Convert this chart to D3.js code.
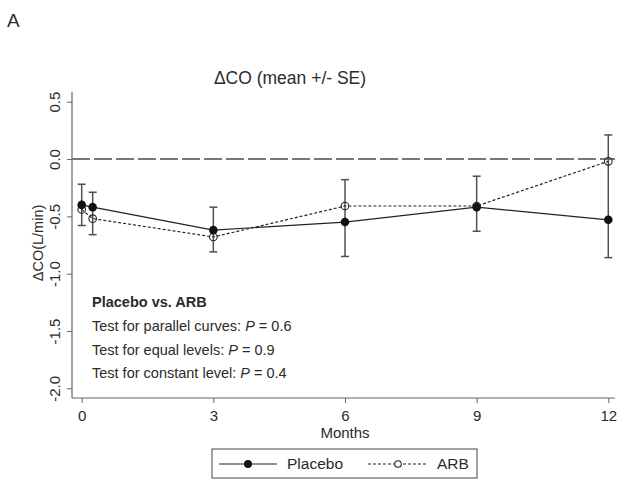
<!DOCTYPE html>
<html>
<head>
<meta charset="utf-8">
<script src="https://cdn.jsdelivr.net/npm/d3@7"></script>
<style>
  body { margin: 0; background: #fff; }
  svg text { font-family: "Liberation Sans", Arial, sans-serif; fill: #2b2b2b; }
</style>
</head>
<body>
<script>
// data
var months      = [0, 0.25, 3, 6, 9, 12];
var placeboMean = [-0.40, -0.42, -0.62, -0.55, -0.42, -0.53];
var placeboLo   = [-0.58, -0.55, -0.81, -0.85, -0.63, -0.86];
var placeboHi   = [-0.22, -0.29, -0.42, -0.25, -0.21, -0.21];
var arbMean     = [-0.44, -0.52, -0.68, -0.41, -0.41, -0.02];
var arbLo       = [-0.57, -0.66, -0.81, -0.64, -0.62, -0.25];
var arbHi       = [-0.31, -0.38, -0.55, -0.18, -0.15, 0.21];
var xTicks = [0, 3, 6, 9, 12];
var yTicks = [0.5, 0, -0.5, -1, -1.5, -2];
var notes = ["Test for parallel curves: ", "Test for equal levels: ", "Test for constant level: "];
var pValues = ["0.6", "0.9", "0.4"];

var width = 619, height = 479;
var svg = d3.select("body").append("svg")
  .attr("width", width)
  .attr("height", height);

var x = d3.scaleLinear().domain([0, 12]).range([81.7, 608.3]);
var y = d3.scaleLinear().domain([-2, 0.5]).range([388.3, 101.7]);
var axL = 72, axB = 398, axR = 615, axT = 92;

// panel letter + title
svg.append("text").attr("x", 7).attr("y", 27).style("font-size", "19px").text("A");
svg.append("text").attr("x", 290).attr("y", 84).attr("text-anchor", "middle")
  .style("font-size", "17.5px").text("\u0394CO (mean +/- SE)");

// axes
var yAxis = svg.append("g").attr("transform", "translate(" + axL + ",0)")
  .call(d3.axisLeft(y).tickValues(yTicks).tickSize(5).tickFormat(function(d){ return d.toFixed(1).replace("-0.0","0.0"); }));
yAxis.select(".domain").remove();
yAxis.selectAll(".tick line").attr("stroke", "#666");
yAxis.selectAll(".tick text")
  .attr("transform", "rotate(-90)")
  .attr("x", 0).attr("y", -12).attr("dy", 0)
  .attr("text-anchor", "middle")
  .style("font-size", "15px");

var xAxis = svg.append("g").attr("transform", "translate(0," + axB + ")")
  .call(d3.axisBottom(x).tickValues(xTicks).tickSize(5));
xAxis.select(".domain").remove();
xAxis.selectAll(".tick line").attr("stroke", "#666");
xAxis.selectAll(".tick text").attr("y", 23).attr("dy", 0).style("font-size", "15px");

svg.append("line").attr("x1", axL).attr("x2", axL).attr("y1", axT).attr("y2", axB)
  .attr("stroke", "#666").attr("stroke-width", 1.2);
svg.append("line").attr("x1", axL).attr("x2", axR).attr("y1", axB).attr("y2", axB)
  .attr("stroke", "#666").attr("stroke-width", 1.2);

svg.append("text").attr("x", 345).attr("y", 438).attr("text-anchor", "middle")
  .style("font-size", "15px").text("Months");
svg.append("text").attr("transform", "translate(43,243) rotate(-90)").attr("text-anchor", "middle")
  .style("font-size", "14.5px").text("\u0394CO(L/min)");

// zero reference line
svg.append("line").attr("x1", axL).attr("x2", axR).attr("y1", y(0)).attr("y2", y(0))
  .attr("stroke", "#777").attr("stroke-width", 2).attr("stroke-dasharray", "18,4");

// build rows
function rows(mean, lo, hi) {
  return months.map(function(m, i){ return {m: m, v: mean[i], lo: lo[i], hi: hi[i]}; });
}
var placebo = rows(placeboMean, placeboLo, placeboHi);
var arb = rows(arbMean, arbLo, arbHi);

// the two groups' bars overlap at each visit; draw the combined span with outer caps
var bars = months.map(function(m, i){
  return {m: m, lo: Math.min(placeboLo[i], arbLo[i]), hi: Math.max(placeboHi[i], arbHi[i])};
});

var line = d3.line().x(function(d){ return x(d.m); }).y(function(d){ return y(d.v); });

var eb = svg.append("g").attr("stroke", "#505050").attr("stroke-width", 1.5);
eb.selectAll(".eb").data(bars).enter().append("line")
  .attr("x1", function(d){ return x(d.m); }).attr("x2", function(d){ return x(d.m); })
  .attr("y1", function(d){ return y(d.lo); }).attr("y2", function(d){ return y(d.hi); });
["lo", "hi"].forEach(function(k){
  eb.selectAll(".cap" + k).data(bars).enter().append("line")
    .attr("x1", function(d){ return x(d.m) - 4; }).attr("x2", function(d){ return x(d.m) + 4; })
    .attr("y1", function(d){ return y(d[k]); }).attr("y2", function(d){ return y(d[k]); });
});

svg.append("path").datum(arb).attr("d", line).attr("fill", "none")
  .attr("stroke", "#222").attr("stroke-width", 1.2).attr("stroke-dasharray", "3,2");
svg.append("path").datum(placebo).attr("d", line).attr("fill", "none")
  .attr("stroke", "#222").attr("stroke-width", 1.2);

svg.selectAll(".arbpt").data(arb).enter().append("circle")
  .attr("cx", function(d){ return x(d.m); }).attr("cy", function(d){ return y(d.v); })
  .attr("r", 3.8).attr("fill", "none").attr("stroke", "#222").attr("stroke-width", 1.1);
svg.selectAll(".plpt").data(placebo).enter().append("circle")
  .attr("cx", function(d){ return x(d.m); }).attr("cy", function(d){ return y(d.v); })
  .attr("r", 4.3).attr("fill", "#111");

// annotation
svg.append("text").attr("x", 92).attr("y", 307).style("font-size", "14.5px")
  .style("font-weight", "bold").text("Placebo vs. ARB");
notes.forEach(function(t, i){
  var tx = svg.append("text").attr("x", 92).attr("y", 331 + i * 23.5).style("font-size", "14.5px");
  tx.append("tspan").text(t);
  tx.append("tspan").style("font-style", "italic").text("P");
  tx.append("tspan").text(" = " + pValues[i]);
});

// legend
var lg = svg.append("g");
lg.append("rect").attr("x", 212).attr("y", 449).attr("width", 265).attr("height", 29)
  .attr("fill", "#fff").attr("stroke", "#444").attr("stroke-width", 1);
lg.append("line").attr("x1", 219).attr("x2", 277).attr("y1", 464).attr("y2", 464)
  .attr("stroke", "#222").attr("stroke-width", 1.2);
lg.append("circle").attr("cx", 248).attr("cy", 464).attr("r", 4).attr("fill", "#111");
lg.append("text").attr("x", 287).attr("y", 469).style("font-size", "15.5px").text("Placebo");
lg.append("line").attr("x1", 368).attr("x2", 427).attr("y1", 464).attr("y2", 464)
  .attr("stroke", "#222").attr("stroke-width", 1.2).attr("stroke-dasharray", "3,2");
lg.append("circle").attr("cx", 398).attr("cy", 464).attr("r", 3.3)
  .attr("fill", "#fff").attr("stroke", "#222").attr("stroke-width", 1.1);
lg.append("text").attr("x", 437).attr("y", 469).style("font-size", "15.5px").text("ARB");
</script>
</body>
</html>
